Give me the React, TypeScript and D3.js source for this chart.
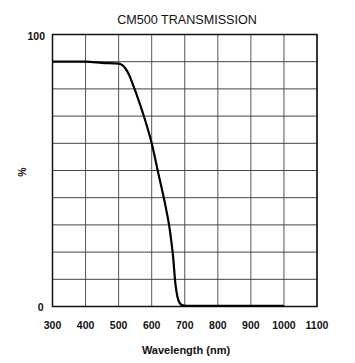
import React from "react";
import * as d3 from "d3";

const wavelengths = [300, 400, 450, 500, 510, 520, 530, 545, 560, 575, 600, 620, 640, 655, 665, 672, 678, 685, 695, 710, 800, 1000];
const transmission = [90, 90, 89.6, 89.3, 88.8, 87.6, 85.6, 81, 76, 70.5, 60, 49, 38, 28, 18, 8, 3.5, 1.2, 0.4, 0.2, 0.2, 0.2];
const xTicks = [300, 400, 500, 600, 700, 800, 900, 1000, 1100];
const yGrid = [0, 10, 20, 30, 40, 50, 60, 70, 80, 90, 100];
const yLabels = [0, 100];

const W = 355;
const H = 363;
const L = 52.5;
const R = 317;
const T = 34.5;
const B = 306.5;

export default function App() {
  const x = d3.scaleLinear().domain([300, 1100]).range([L, R]);
  const y = d3.scaleLinear().domain([0, 100]).range([B, T]);
  const data = wavelengths.map((w, i) => [w, transmission[i]] as [number, number]);
  const line = d3
    .line<[number, number]>()
    .x((d) => x(d[0]))
    .y((d) => y(d[1]))
    .curve(d3.curveMonotoneX);
  const font = "'Liberation Sans', Arial, Helvetica, sans-serif";
  return (
    <svg width={W} height={H} style={{ position: "absolute", left: 0, top: 0, background: "#fff" }}>
      <rect x={0} y={0} width={W} height={H} fill="#fff" />
      <text x={187} y={23.5} textAnchor="middle" fontFamily={font} fontSize={12.6} fill="#111">
        CM500 TRANSMISSION
      </text>
      {xTicks.map((t) => (
        <line key={"vx" + t} x1={x(t)} x2={x(t)} y1={T} y2={B} stroke="#555" strokeWidth={1} />
      ))}
      {yGrid.map((t) => (
        <line key={"hy" + t} x1={L} x2={R} y1={y(t)} y2={y(t)} stroke="#444" strokeWidth={1} />
      ))}
      <rect x={L} y={T} width={R - L} height={B - T} fill="none" stroke="#111" strokeWidth={1.5} />
      <path d={line(data) || ""} fill="none" stroke="#000" strokeWidth={2.2} strokeLinejoin="round" />
      {xTicks.map((t) => (
        <text key={"xt" + t} x={x(t)} y={329} textAnchor="middle" fontFamily={font} fontWeight="bold" fontSize={10.5} fill="#111">
          {t}
        </text>
      ))}
      {yLabels.map((t) => (
        <text key={"yl" + t} x={t === 0 ? 43.5 : 45} y={y(t) + (t === 0 ? 4 : 5)} textAnchor="end" fontFamily={font} fontWeight="bold" fontSize={10.5} fill="#111">
          {t}
        </text>
      ))}
      <text x={186} y={354} textAnchor="middle" fontFamily={font} fontWeight="bold" fontSize={11} fill="#111">
        Wavelength (nm)
      </text>
      <text transform="translate(26,172) rotate(-90)" textAnchor="middle" fontFamily={font} fontWeight="bold" fontSize={10.5} fill="#111">
        %
      </text>
    </svg>
  );
}
